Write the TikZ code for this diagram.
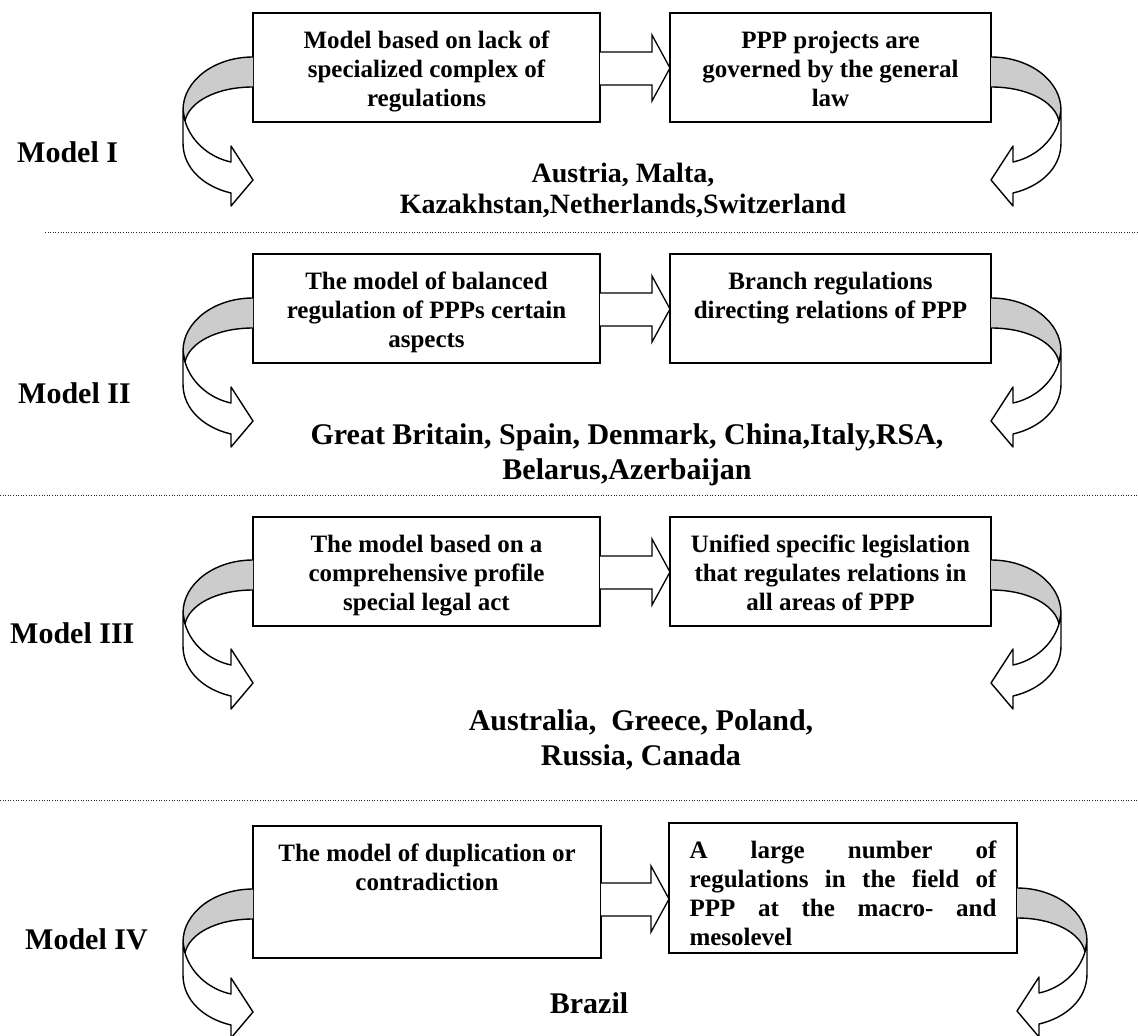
\documentclass[tikz,border=0pt]{standalone}
\usepackage{fontspec}
\setmainfont{Liberation Serif}
\usetikzlibrary{calc}
\definecolor{ribbon}{RGB}{204,204,204}
\tikzset{
  panel/.style={draw, line width=1.3pt, fill=white, inner sep=0pt, outer sep=0pt},
  paneltext/.style={anchor=north, align=center, inner sep=0pt, font=\fontsize{25}{29}\selectfont\bfseries},
  countries/.style={align=center, inner sep=0pt, font=\fontsize{30}{34.5}\selectfont\bfseries},
  modellabel/.style={anchor=west, inner sep=0pt, font=\fontsize{30}{34}\selectfont\bfseries},
  linkshape/.style={draw, line width=1.3pt, fill=white, line join=miter},
  separator/.style={line width=0.9pt, dash pattern=on 1pt off 1.6pt, black!85},
  turnline/.style={line width=1.4pt, line join=round},
}
% curved ribbon arrow leaving the side of a box and turning back under it
% #1: coordinate where the outer edge meets the box, #2: 1 bends left, -1 bends right
\newcommand{\turnarrow}[2]{%
  \begin{scope}[shift={(#1)}, xscale=#2]
    \fill[ribbon] (0,0) .. controls (-39,0) and (-70,24) .. (-70,53) -- (-68,64)
      .. controls (-64,45) and (-37,30) .. (0,30) -- cycle;
    \draw[turnline] (0,0) .. controls (-39,0) and (-70,24) .. (-70,53);
    \draw[turnline] (0,30) .. controls (-37,30) and (-64,45) .. (-68,64);
    \filldraw[turnline, fill=white] (-68,64) .. controls (-61,87) and (-41,101) .. (-22,105)
      -- (-22,89) -- (0,123) -- (-22,149) -- (-22,136)
      .. controls (-48,130) and (-70,112) .. (-70,86) -- (-70,53) -- cycle;
  \end{scope}}
% block arrow from box #1 to the coordinate #2 on the next box, shifted down by #3
\newcommand{\linkarrow}[3]{%
  \draw[linkshape] ($(#1.north east)+(0,39+#3)$) -- ($(#2)+(-18,39+#3)$)
    -- ($(#2)+(-18,22+#3)$) -- ($(#2)+(0,55+#3)$) -- ($(#2)+(-18,88+#3)$)
    -- ($(#2)+(-18,72+#3)$) -- ($(#1.north east)+(0,72+#3)$);}

\begin{document}
\begin{tikzpicture}[x=1pt, y=-1pt]
\useasboundingbox (0,0) rectangle (1138,1036);

% ---------- Model I ----------
\node[panel, line width=2.3pt, minimum width=347pt, minimum height=109pt] (a1) at (426.5,67.5) {};
\node[panel, minimum width=321pt, minimum height=109pt] (b1) at (830.5,67.5) {};
\node[paneltext] (ta1) at ($(a1.north)+(0,18)$) {Model based on lack of\\specialized complex of\\regulations};
\node[paneltext] (tb1) at ($(b1.north)+(0,18)$) {PPP projects are\\governed by the general\\law};
\coordinate (h1) at (b1.west |- a1.north);
\linkarrow{a1}{h1}{0}
\coordinate (l1) at ($(a1.north west)+(0,44)$);
\coordinate (r1) at ($(b1.north east)+(0,44)$);
\turnarrow{l1}{1}
\turnarrow{r1}{-1}
\node[modellabel] (m1) at (17,152) {Model I};
\node[countries, font=\fontsize{28}{31}\selectfont\bfseries] (c1) at (623,190) {Austria, Malta,\\Kazakhstan,Netherlands,Switzerland};
\coordinate (s1a) at (45,232);
\coordinate (s1b) at (1138,232);
\draw[separator] (s1a) -- (s1b);

% ---------- Model II ----------
\node[panel, minimum width=347pt, minimum height=109pt] (a2) at (426.5,308.5) {};
\node[panel, minimum width=321pt, minimum height=109pt] (b2) at (830.5,308.5) {};
\node[paneltext] (ta2) at ($(a2.north)+(0,18)$) {The model of balanced\\regulation of PPPs certain\\aspects};
\node[paneltext] (tb2) at ($(b2.north)+(0,18)$) {Branch regulations\\directing relations of PPP};
\coordinate (h2) at (b2.west |- a2.north);
\linkarrow{a2}{h2}{0}
\coordinate (l2) at ($(a2.north west)+(0,44)$);
\coordinate (r2) at ($(b2.north east)+(0,44)$);
\turnarrow{l2}{1}
\turnarrow{r2}{-1}
\node[modellabel] (m2) at (18,393) {Model II};
\node[countries] (c2) at (627,455) {Great Britain, Spain, Denmark, China,Italy,RSA,\\Belarus,Azerbaijan};
\coordinate (s2a) at (0,495);
\coordinate (s2b) at (1138,495);
\draw[separator] (s2a) -- (s2b);

% ---------- Model III ----------
\node[panel, minimum width=347pt, minimum height=109pt] (a3) at (426.5,571.5) {};
\node[panel, minimum width=321pt, minimum height=109pt] (b3) at (830.5,571.5) {};
\node[paneltext] (ta3) at ($(a3.north)+(0,18)$) {The model based on a\\comprehensive profile\\special legal act};
\node[paneltext] (tb3) at ($(b3.north)+(0,18)$) {Unified specific legislation\\that regulates relations in\\all areas of PPP};
\coordinate (h3) at (b3.west |- a3.north);
\linkarrow{a3}{h3}{0}
\coordinate (l3) at ($(a3.north west)+(0,43)$);
\coordinate (r3) at ($(b3.north east)+(0,43)$);
\turnarrow{l3}{1}
\turnarrow{r3}{-1}
\node[modellabel] (m3) at (10,633) {Model III};
\node[countries] (c3) at (641,740) {Australia,~ Greece, Poland,\\Russia, Canada};
\coordinate (s3a) at (0,800);
\coordinate (s3b) at (1138,800);
\draw[separator] (s3a) -- (s3b);

% ---------- Model IV ----------
\node[panel, minimum width=348pt, minimum height=132pt] (a4) at (427,892) {};
\node[panel, minimum width=348pt, minimum height=130pt] (b4) at (843,888) {};
\node[paneltext] (ta4) at ($(a4.north)+(0,18)$) {The model of duplication or\\contradiction};
\node[paneltext, text width=307pt, align=justify] (tb4) at ($(b4.north)+(0,18)$)
  {\tolerance=10000\hyphenpenalty=10000 A large number of\linebreak regulations in the field of\linebreak PPP at the macro- and\linebreak mesolevel};
\coordinate (h4) at (b4.west |- a4.north);
\linkarrow{a4}{h4}{18}
\coordinate (l4) at ($(a4.north west)+(0,63)$);
\coordinate (r4) at ($(b4.north east)+(0,65)$);
\turnarrow{l4}{1}
\turnarrow{r4}{-1}
\node[modellabel] (m4) at (25,939) {Model IV};
\node[countries] (c4) at (589,1003) {Brazil};
\end{tikzpicture}
\end{document}
